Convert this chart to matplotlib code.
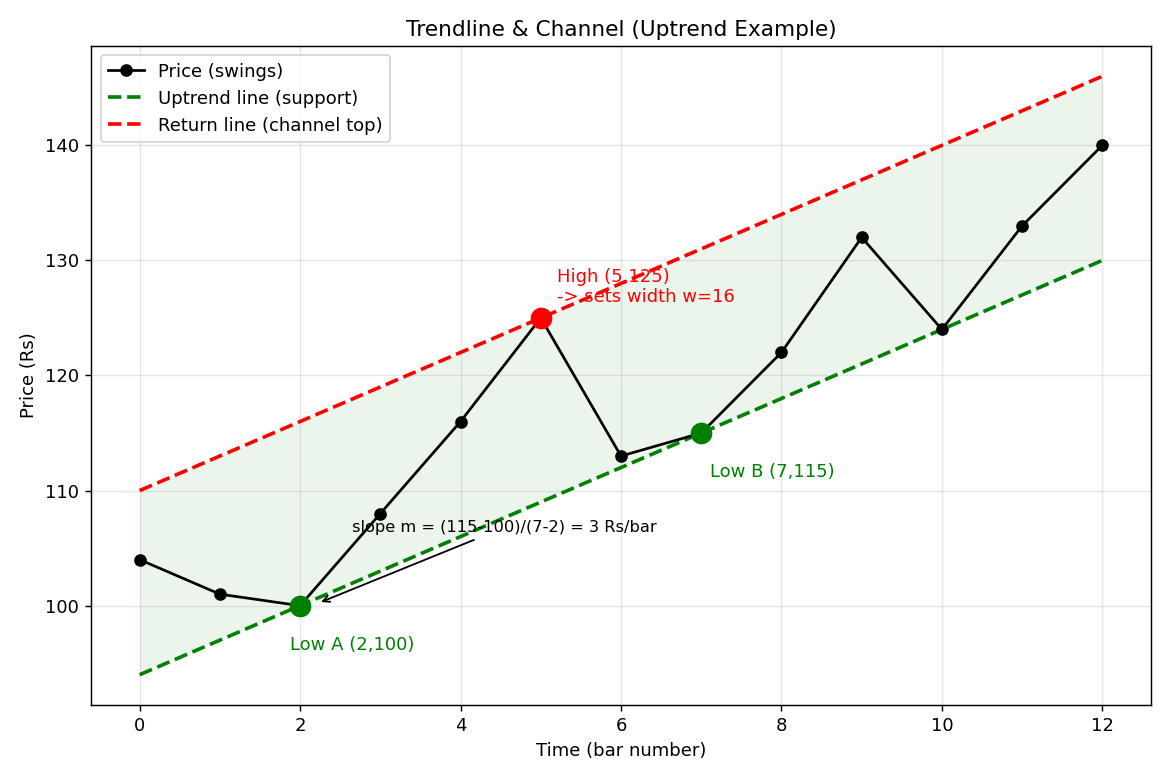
import matplotlib
matplotlib.use("Agg")
import matplotlib.pyplot as plt
import numpy as np

# swing prices per bar
bars = [0, 1, 2, 3, 4, 5, 6, 7, 8, 9, 10, 11, 12]
price = [104, 101, 100, 108, 116, 125, 113, 115, 122, 132, 124, 133, 140]

# trendline through the two lows, channel width from the high
low_a = (2, 100)
low_b = (7, 115)
high = (5, 125)

x = np.array(bars)
m = (low_b[1] - low_a[1]) / (low_b[0] - low_a[0])
b = low_a[1] - m * low_a[0]
w = high[1] - (m * high[0] + b)
support = m * x + b
top = support + w

fig, ax = plt.subplots(figsize=(9, 6), dpi=130)

ax.plot(x, price, color='black', marker='o', markersize=6, linewidth=1.5, label='Price (swings)', zorder=3)
ax.plot(x, support, color='green', linestyle='--', linewidth=2, label='Uptrend line (support)')
ax.plot(x, top, color='red', linestyle='--', linewidth=2, label='Return line (channel top)')
ax.fill_between(x, support, top, color='green', alpha=0.08, linewidth=0)

ax.plot(*low_a, 'o', color='green', markersize=11, zorder=4)
ax.plot(*low_b, 'o', color='green', markersize=11, zorder=4)
ax.plot(*high, 'o', color='red', markersize=11, zorder=4)

ax.text(low_a[0] - 0.12, low_a[1] - 3.4, 'Low A (2,100)', color='green', fontsize=10, va='center')
ax.text(low_b[0] + 0.11, low_b[1] - 3.4, 'Low B (7,115)', color='green', fontsize=10, va='center')
ax.text(high[0] + 0.2, high[1] + 1.0, 'High (5,125)\n-> sets width w=16', color='red', fontsize=10, va='bottom')

ax.annotate('slope m = (115-100)/(7-2) = 3 Rs/bar', xy=(2.22, 100.2), xytext=(4.55, 106.8),
            ha='center', va='center', fontsize=9,
            arrowprops=dict(arrowstyle='->', color='black', lw=1))

ax.set_title('Trendline & Channel (Uptrend Example)')
ax.set_xlabel('Time (bar number)')
ax.set_ylabel('Price (Rs)')
ax.grid(True, alpha=0.3)
ax.legend(loc='upper left')

plt.tight_layout()
plt.savefig('out.png')
